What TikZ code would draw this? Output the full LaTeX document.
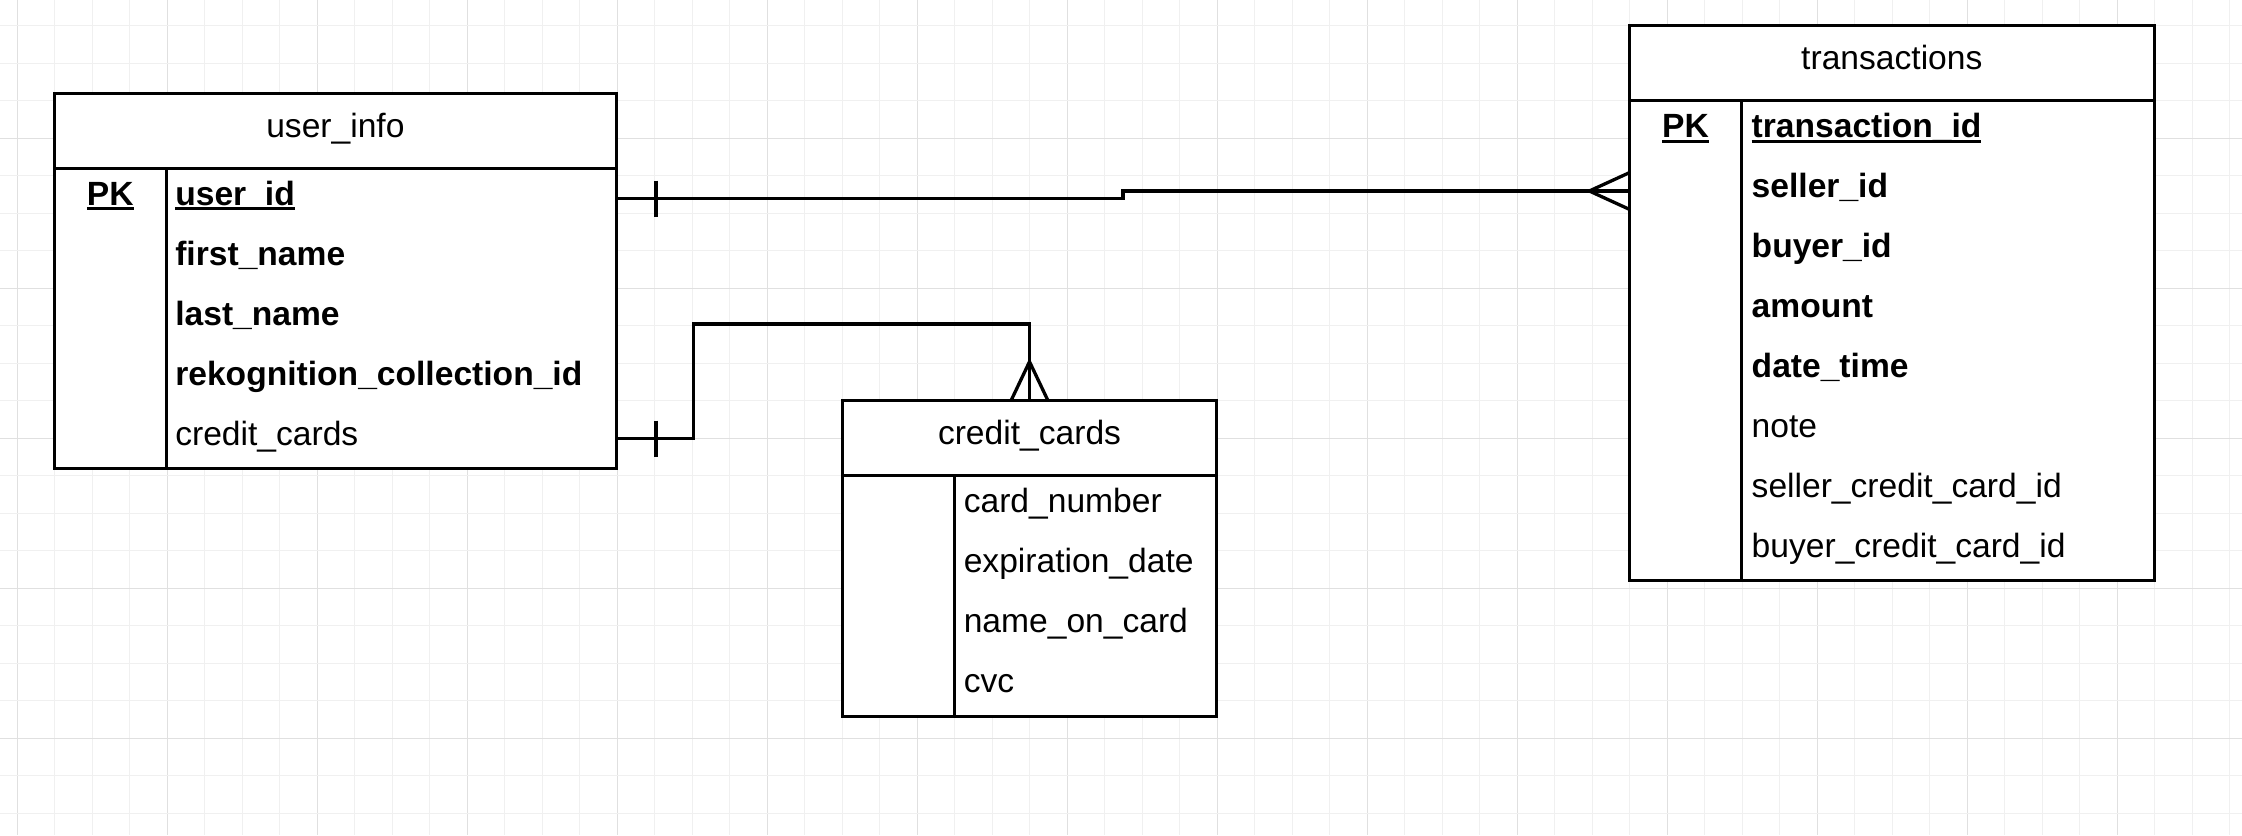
\documentclass[tikz,border=0pt]{standalone}
\usepackage{fontspec}
\setmainfont{Liberation Sans}
\usetikzlibrary{calc}
\newcommand\ulin[1]{\setbox0\hbox{#1}\rlap{\rule[-5pt]{\wd0}{3pt}}\box0}
\begin{document}
\begin{tikzpicture}[x=1pt,y=-1pt,
  tbl/.style={draw=black, line width=3.3pt, fill=white, inner sep=0pt, outer sep=0pt, rectangle, anchor=north west},
  txt/.style={inner sep=0pt, outer sep=0pt, anchor=base west, font=\fontsize{33.6}{40}\selectfont},
  bold/.style={txt, font=\fontsize{33.6}{40}\selectfont\bfseries},
  pk/.style={bold, anchor=base},
  ttl/.style={txt, anchor=base, yshift=-6.5pt},
  divl/.style={line width=3.3pt},
  conn/.style={line width=3.3pt},
  minor/.style={draw={rgb,255:red,240;green,240;blue,240}, line width=1.2pt},
  major/.style={draw={rgb,255:red,224;green,224;blue,224}, line width=1.2pt}]
\useasboundingbox (0,0) rectangle (2242,835);
\fill[white] (0,0) rectangle (2242,835);
% grid
\foreach \k in {0,...,59}{
  \pgfmathsetmacro\xx{17.3+37.5*\k}
  \pgfmathtruncatemacro\mm{mod(\k,4)}
  \ifnum\mm=0 \draw[major] (\xx,0) -- (\xx,835); \else \draw[minor] (\xx,0) -- (\xx,835); \fi
}
\foreach \k in {0,...,21}{
  \pgfmathsetmacro\yy{25.8+37.5*\k}
  \pgfmathtruncatemacro\mm{mod(\k,4)}
  \ifnum\mm=3 \draw[major] (0,\yy) -- (2242,\yy); \else \draw[minor] (0,\yy) -- (2242,\yy); \fi
}
% user_info
\node[tbl, minimum width=562.2pt, minimum height=75pt] (uiH) at (54.3,93.7) {};
\node[tbl, minimum width=562.2pt, minimum height=300pt] (uiB) at (54.3,168.7) {};
\draw[divl] (166.3,168.7) -- (166.3,468.7);
\node[ttl] (uiT) at (uiH.center) {user\_info};
\node[pk] (uiPK) at (110.3,205.2) {\ulin{PK}};
\node[bold] (u1) at (175.3,205.2) {\ulin{user\_id}};
\node[bold] (u2) at (175.3,265.2) {first\_name};
\node[bold] (u3) at (175.3,325.2) {last\_name};
\node[bold] (u4) at (175.3,385.2) {rekognition\_collection\_id};
\node[txt] (u5) at (175.3,445.2) {credit\_cards};
% transactions
\node[tbl, minimum width=525pt, minimum height=75pt] (trH) at (1629.3,25.7) {};
\node[tbl, minimum width=525pt, minimum height=480pt] (trB) at (1629.3,100.7) {};
\draw[divl] (1741.7,100.7) -- (1741.7,580.7);
\node[ttl] (trT) at (trH.center) {transactions};
\node[pk] (trPK) at (1685.5,137.5) {\ulin{PK}};
\node[bold] (t1) at (1751.7,137.5) {\ulin{transaction\_id}};
\node[bold] (t2) at (1751.7,197.5) {seller\_id};
\node[bold] (t3) at (1751.7,257.5) {buyer\_id};
\node[bold] (t4) at (1751.7,317.5) {amount};
\node[bold] (t5) at (1751.7,377.5) {date\_time};
\node[txt] (t6) at (1751.7,437.5) {note};
\node[txt] (t7) at (1751.7,497.5) {seller\_credit\_card\_id};
\node[txt] (t8) at (1751.7,557.5) {buyer\_credit\_card\_id};
% credit_cards
\node[tbl, minimum width=374.4pt, minimum height=75pt] (ccH) at (842.3,400.7) {};
\node[tbl, minimum width=374.4pt, minimum height=240.6pt] (ccB) at (842.3,475.7) {};
\draw[divl] (954.3,475.7) -- (954.3,716.3);
\node[ttl] (ccT) at (ccH.center) {credit\_cards};
\node[txt] (c1) at (963.8,512.2) {card\_number};
\node[txt] (c2) at (963.8,572.2) {expiration\_date};
\node[txt] (c3) at (963.8,632.2) {name\_on\_card};
\node[txt] (c4) at (963.8,692.2) {cvc};
% connector user_info -> transactions
\coordinate (uiR1) at ($(uiB.north east)+(0,30)$);
\coordinate (trL2) at ($(trB.north west)+(0,90.3)$);
\draw[conn] (uiR1) -| ($(uiR1)!0.5!(trL2)$) |- (trL2);
\draw[conn] ($(uiR1)+(39.5,-18)$) -- ++(0,36);
\draw[conn] ($(trL2)+(0,-18.3)$) -- ($(trL2)+(-40,0)$) -- ($(trL2)+(0,18.3)$);
% connector user_info -> credit_cards
\coordinate (uiR5) at ($(uiB.north east)+(0,270)$);
\draw[conn] (uiR5) -- ++(77.2,0) |- ($(ccH.north)+(0,-76.7)$) -- (ccH.north);
\draw[conn] ($(uiR5)+(39.5,-18)$) -- ++(0,36);
\draw[conn] ($(ccH.north)+(-18.5,0)$) -- ($(ccH.north)+(0,-39)$) -- ($(ccH.north)+(18.5,0)$);
\end{tikzpicture}
\end{document}
